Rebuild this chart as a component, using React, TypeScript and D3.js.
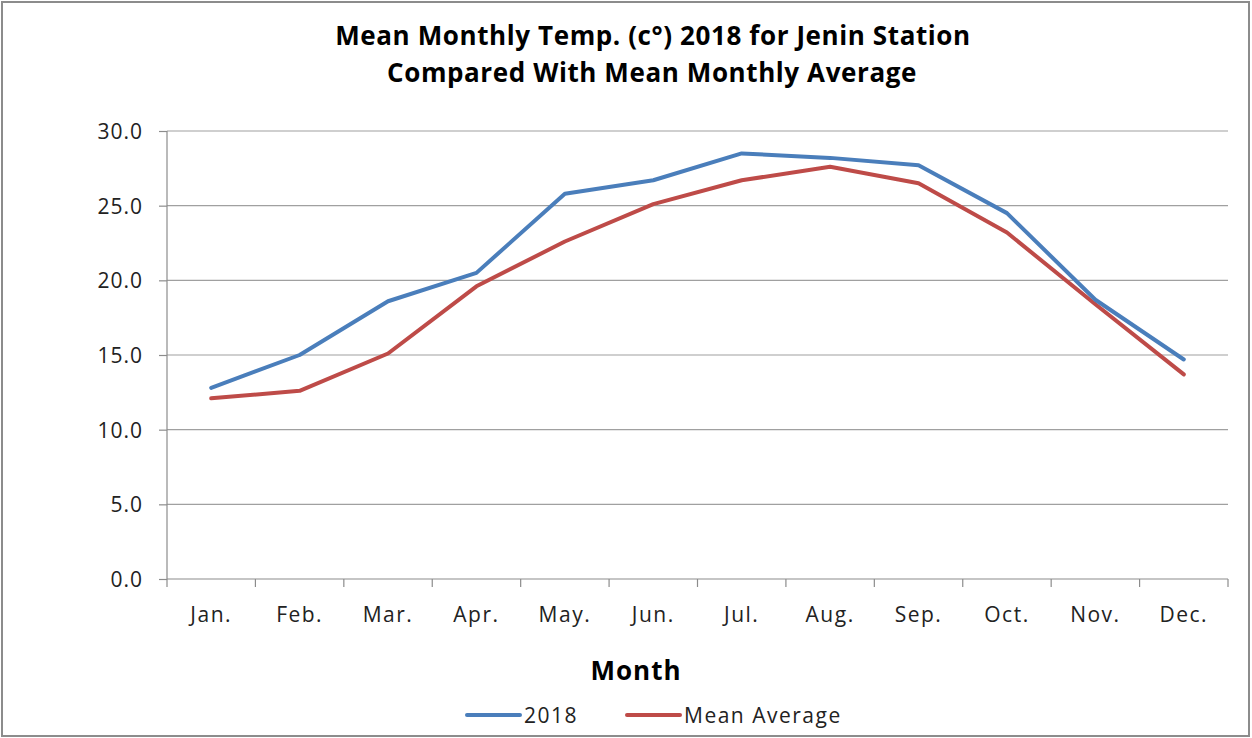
import React, { useEffect, useRef } from 'react';
import * as d3 from 'd3';

const months = ['Jan.', 'Feb.', 'Mar.', 'Apr.', 'May.', 'Jun.', 'Jul.', 'Aug.', 'Sep.', 'Oct.', 'Nov.', 'Dec.'];
const temp2018 = [12.8, 15.0, 18.6, 20.5, 25.8, 26.7, 28.5, 28.2, 27.7, 24.5, 18.7, 14.7];
const meanAverage = [12.1, 12.6, 15.1, 19.6, 22.6, 25.1, 26.7, 27.6, 26.5, 23.2, 18.4, 13.7];
const yTicks = [0, 5, 10, 15, 20, 25, 30];

const W = 1252;
const H = 738;
const FONT = '"Open Sans", Lato, sans-serif';

const App: React.FC = () => {
  const ref = useRef<SVGSVGElement>(null);

  useEffect(() => {
    const svg = d3.select(ref.current);
    svg.selectAll('*').remove();

    const margin = { top: 131, right: 24, bottom: 159, left: 167 };
    const width = W - margin.left - margin.right;
    const height = H - margin.top - margin.bottom;

    // outer frame
    svg.append('rect')
      .attr('x', 2).attr('y', 2)
      .attr('width', W - 5).attr('height', H - 4)
      .attr('fill', '#fff')
      .attr('stroke', '#8c8c8c')
      .attr('stroke-width', 2);

    // title
    const title = svg.append('text')
      .attr('text-anchor', 'middle')
      .attr('font-family', FONT)
      .attr('font-weight', 'bold')
      .attr('font-size', 26)
      .attr('letter-spacing', 0.6)
      .attr('fill', '#000');
    title.append('tspan').attr('x', 653).attr('y', 45).text('Mean Monthly Temp. (c°) 2018 for Jenin Station');
    title.append('tspan').attr('x', 652).attr('y', 82).text('Compared With Mean Monthly Average');

    const g = svg.append('g').attr('transform', `translate(${margin.left},${margin.top})`);

    const x = d3.scaleBand().domain(months).range([0, width]);
    const y = d3.scaleLinear().domain([0, 30]).range([height, 0]);

    // gridlines
    g.append('g')
      .selectAll('line')
      .data(yTicks.filter((d) => d > 0))
      .enter().append('line')
      .attr('x1', 0).attr('x2', width)
      .attr('y1', (d) => y(d)).attr('y2', (d) => y(d))
      .attr('stroke', '#a0a0a0')
      .attr('stroke-width', 1.2);

    // y axis
    const yAxis = g.append('g')
      .call(d3.axisLeft(y).tickValues(yTicks).tickSize(8).tickPadding(16).tickFormat(d3.format('.1f')));
    yAxis.select('.domain').attr('stroke', '#8c8c8c').attr('stroke-width', 1.2).attr('d', `M0,0V${height}`);
    yAxis.selectAll('line').attr('stroke', '#8c8c8c').attr('stroke-width', 1.2);
    yAxis.selectAll('text')
      .attr('font-family', FONT).attr('font-size', 21).attr('fill', '#222')
      .attr('letter-spacing', 1)
      .attr('dy', '0.35em');

    // x axis
    const xAxis = g.append('g').attr('transform', `translate(0,${height})`);
    xAxis.append('line')
      .attr('x1', 0).attr('x2', width)
      .attr('stroke', '#8c8c8c').attr('stroke-width', 1.2);
    xAxis.selectAll('line.tick')
      .data(d3.range(months.length + 1))
      .enter().append('line')
      .attr('class', 'tick')
      .attr('x1', (i) => i * x.step()).attr('x2', (i) => i * x.step())
      .attr('y1', 0).attr('y2', 8)
      .attr('stroke', '#8c8c8c').attr('stroke-width', 1.2);
    xAxis.selectAll('text')
      .data(months)
      .enter().append('text')
      .attr('x', (d) => (x(d) as number) + x.bandwidth() / 2)
      .attr('y', 43)
      .attr('text-anchor', 'middle')
      .attr('font-family', FONT).attr('font-size', 21).attr('fill', '#222')
      .attr('letter-spacing', 1.5)
      .text((d) => d);

    // lines
    const line = d3.line<number>()
      .x((_, i) => (x(months[i]) as number) + x.bandwidth() / 2)
      .y((d) => y(d));

    const series = [
      { name: '2018', values: temp2018, color: '#4a7ebb' },
      { name: 'Mean Average', values: meanAverage, color: '#be4b48' },
    ];

    series.slice().reverse().forEach((s) => {
      g.append('path')
        .datum(s.values)
        .attr('fill', 'none')
        .attr('stroke', s.color)
        .attr('stroke-width', 4)
        .attr('stroke-linejoin', 'round')
        .attr('stroke-linecap', 'round')
        .attr('d', line);
    });

    // axis title
    svg.append('text')
      .attr('x', 636).attr('y', 680)
      .attr('text-anchor', 'middle')
      .attr('font-family', FONT).attr('font-weight', 'bold').attr('font-size', 26)
      .attr('letter-spacing', 1)
      .text('Month');

    // legend
    const legendX = [467, 627];
    series.forEach((s, i) => {
      const lg = svg.append('g').attr('transform', `translate(${legendX[i]},715)`);
      lg.append('line')
        .attr('x1', 0).attr('x2', 53)
        .attr('stroke', s.color).attr('stroke-width', 4).attr('stroke-linecap', 'round');
      lg.append('text')
        .attr('x', 57).attr('y', 8)
        .attr('font-family', FONT).attr('font-size', 21).attr('fill', '#222')
        .attr('letter-spacing', 1.5)
        .text(s.name);
    });
  }, []);

  return (
    <svg ref={ref} width={W} height={H} style={{ position: 'absolute', left: 0, top: 0, background: '#fff' }} />
  );
};

export default App;
